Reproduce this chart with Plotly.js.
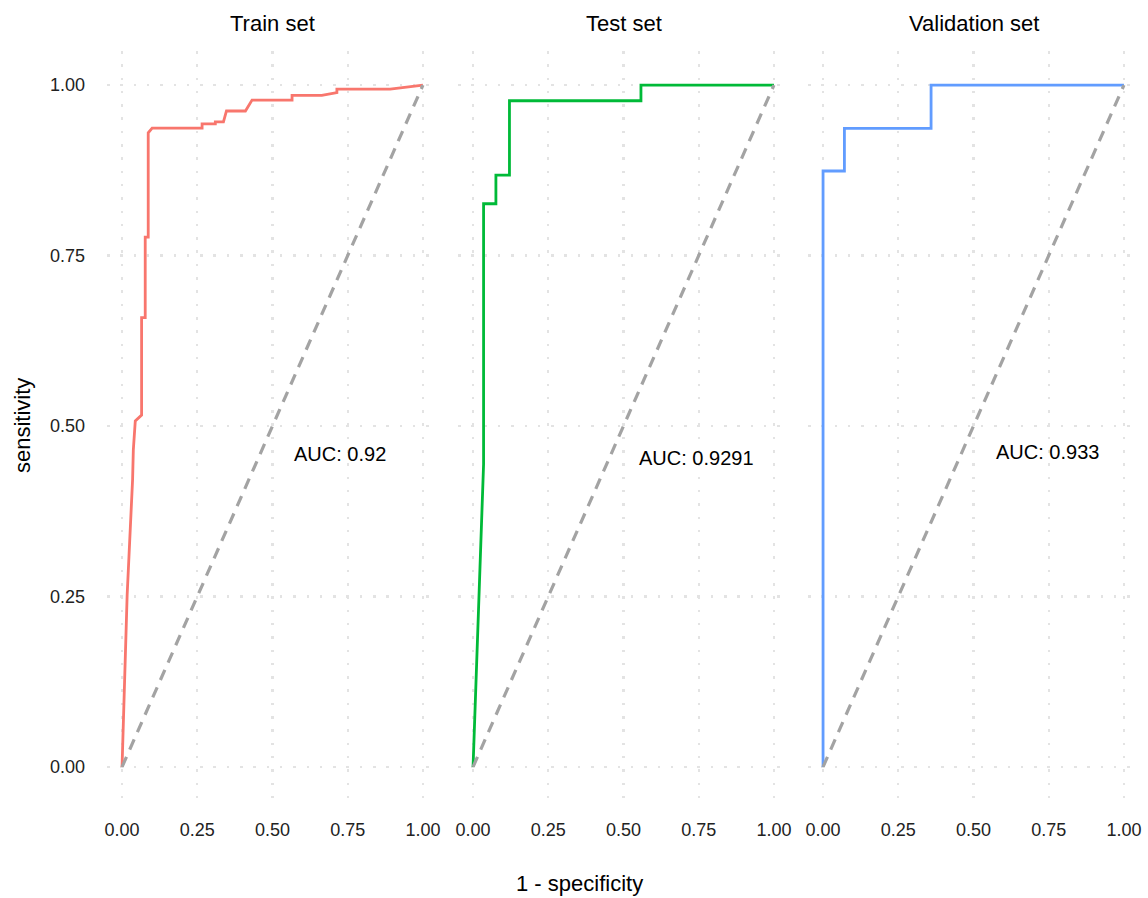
<!DOCTYPE html>
<html>
<head>
<meta charset="utf-8">
<script src="https://cdn.plot.ly/plotly-3.0.1.min.js"></script>
<style>html,body{margin:0;padding:0;background:#fff;}#chart{width:1148px;height:898px;}</style>
</head>
<body>
<div id="chart"></div>
<script>
// ---- data ----
const panelTitles = ["Train set", "Test set", "Validation set"];
const aucLabels = ["AUC: 0.92", "AUC: 0.9291", "AUC: 0.933"];
const aucX = [0.723, 0.744, 0.747];
const aucY = [0.459, 0.453, 0.462];

const trainFpr = [0, 0.017, 0.035, 0.0375, 0.044, 0.065, 0.065, 0.077, 0.077, 0.087, 0.087, 0.100, 0.266, 0.266, 0.310, 0.310, 0.337, 0.343, 0.347, 0.410, 0.420, 0.432, 0.565, 0.565, 0.664, 0.714, 0.714, 0.891, 1];
const trainTpr = [0, 0.2525, 0.421, 0.465, 0.5075, 0.516, 0.659, 0.659, 0.777, 0.777, 0.930, 0.937, 0.937, 0.943, 0.943, 0.946, 0.946, 0.955, 0.962, 0.962, 0.970, 0.978, 0.978, 0.985, 0.985, 0.989, 0.994, 0.994, 1];

const testFpr = [0, 0.035, 0.035, 0.076, 0.076, 0.121, 0.121, 0.558, 0.558, 1];
const testTpr = [0, 0.444, 0.826, 0.826, 0.868, 0.868, 0.977, 0.977, 1, 1];

const validFpr = [0, 0, 0.071, 0.071, 0.359, 0.359, 1];
const validTpr = [0, 0.874, 0.874, 0.9365, 0.9365, 1, 1];

const diagX = [0, 1];
const diagY = [0, 1];

const tickVals = [0, 0.25, 0.5, 0.75, 1];
const tickText = ["0.00", "0.25", "0.50", "0.75", "1.00"];

const colors = ["#F8766D", "#00BA38", "#619CFF"];
// --------------------------------------

const series = [[trainFpr, trainTpr], [testFpr, testTpr], [validFpr, validTpr]];
const traces = [];
series.forEach((s, i) => {
  const xa = i === 0 ? 'x' : 'x' + (i + 1);
  const ya = i === 0 ? 'y' : 'y' + (i + 1);
  traces.push({x: s[0], y: s[1], xaxis: xa, yaxis: ya, type: 'scatter', mode: 'lines',
    line: {color: colors[i], width: 2.8}, hoverinfo: 'skip', showlegend: false});
  traces.push({x: diagX, y: diagY, xaxis: xa, yaxis: ya, type: 'scatter', mode: 'lines',
    line: {color: '#A3A3A3', width: 3.2, dash: '11px,8px'}, hoverinfo: 'skip', showlegend: false});
});

const W = 1032;
const domains = [[0, 331 / W], [351 / W, 682 / W], [701 / W, 1]];
const gridStyle = {gridcolor: '#E3E3E3', gridwidth: 2.4, griddash: '2.5px,10.8px', zeroline: false,
  showline: false, ticks: '', range: [-0.05, 1.05], tickvals: tickVals, ticktext: tickText,
  tickfont: {family: 'Liberation Sans, Arial, sans-serif', size: 18, color: '#222222'}, fixedrange: true};

const layout = {
  width: 1148, height: 898,
  margin: {l: 107, r: 9, t: 51, b: 97},
  paper_bgcolor: '#ffffff', plot_bgcolor: '#ffffff',
  font: {family: 'Liberation Sans, Arial, sans-serif', color: '#000'},
  showlegend: false,
  annotations: []
};
for (let i = 0; i < 3; i++) {
  const sx = i === 0 ? '' : String(i + 1);
  layout['xaxis' + sx] = Object.assign({}, gridStyle, {domain: domains[i], anchor: 'y' + sx, ticklabelstandoff: 16});
  layout['yaxis' + sx] = Object.assign({}, gridStyle, {domain: [0, 1], anchor: 'x' + sx,
    showticklabels: i === 0, ticklabelstandoff: 21});
  layout.annotations.push({text: panelTitles[i], xref: 'paper', yref: 'paper',
    x: (domains[i][0] + domains[i][1]) / 2, y: 1 + 27 / 750, xanchor: 'center', yanchor: 'middle',
    showarrow: false, font: {size: 22, color: '#000'}});
  layout.annotations.push({text: aucLabels[i], xref: 'x' + sx, yref: 'y' + sx,
    x: aucX[i], y: aucY[i], xanchor: 'center', yanchor: 'middle', showarrow: false,
    font: {size: 20, color: '#000'}});
}
layout.annotations.push({text: 'sensitivity', xref: 'paper', yref: 'paper',
  x: (22 - 107) / W, y: 0.5, xanchor: 'center', yanchor: 'middle', textangle: -90,
  showarrow: false, font: {size: 22, color: '#000'}});
layout.annotations.push({text: '1 - specificity', xref: 'paper', yref: 'paper',
  x: (579 - 107) / W, y: -(883 - 801) / 750, xanchor: 'center', yanchor: 'middle',
  showarrow: false, font: {size: 22, color: '#000'}});

Plotly.newPlot('chart', traces, layout, {displayModeBar: false, staticPlot: true});
</script>
</body>
</html>
